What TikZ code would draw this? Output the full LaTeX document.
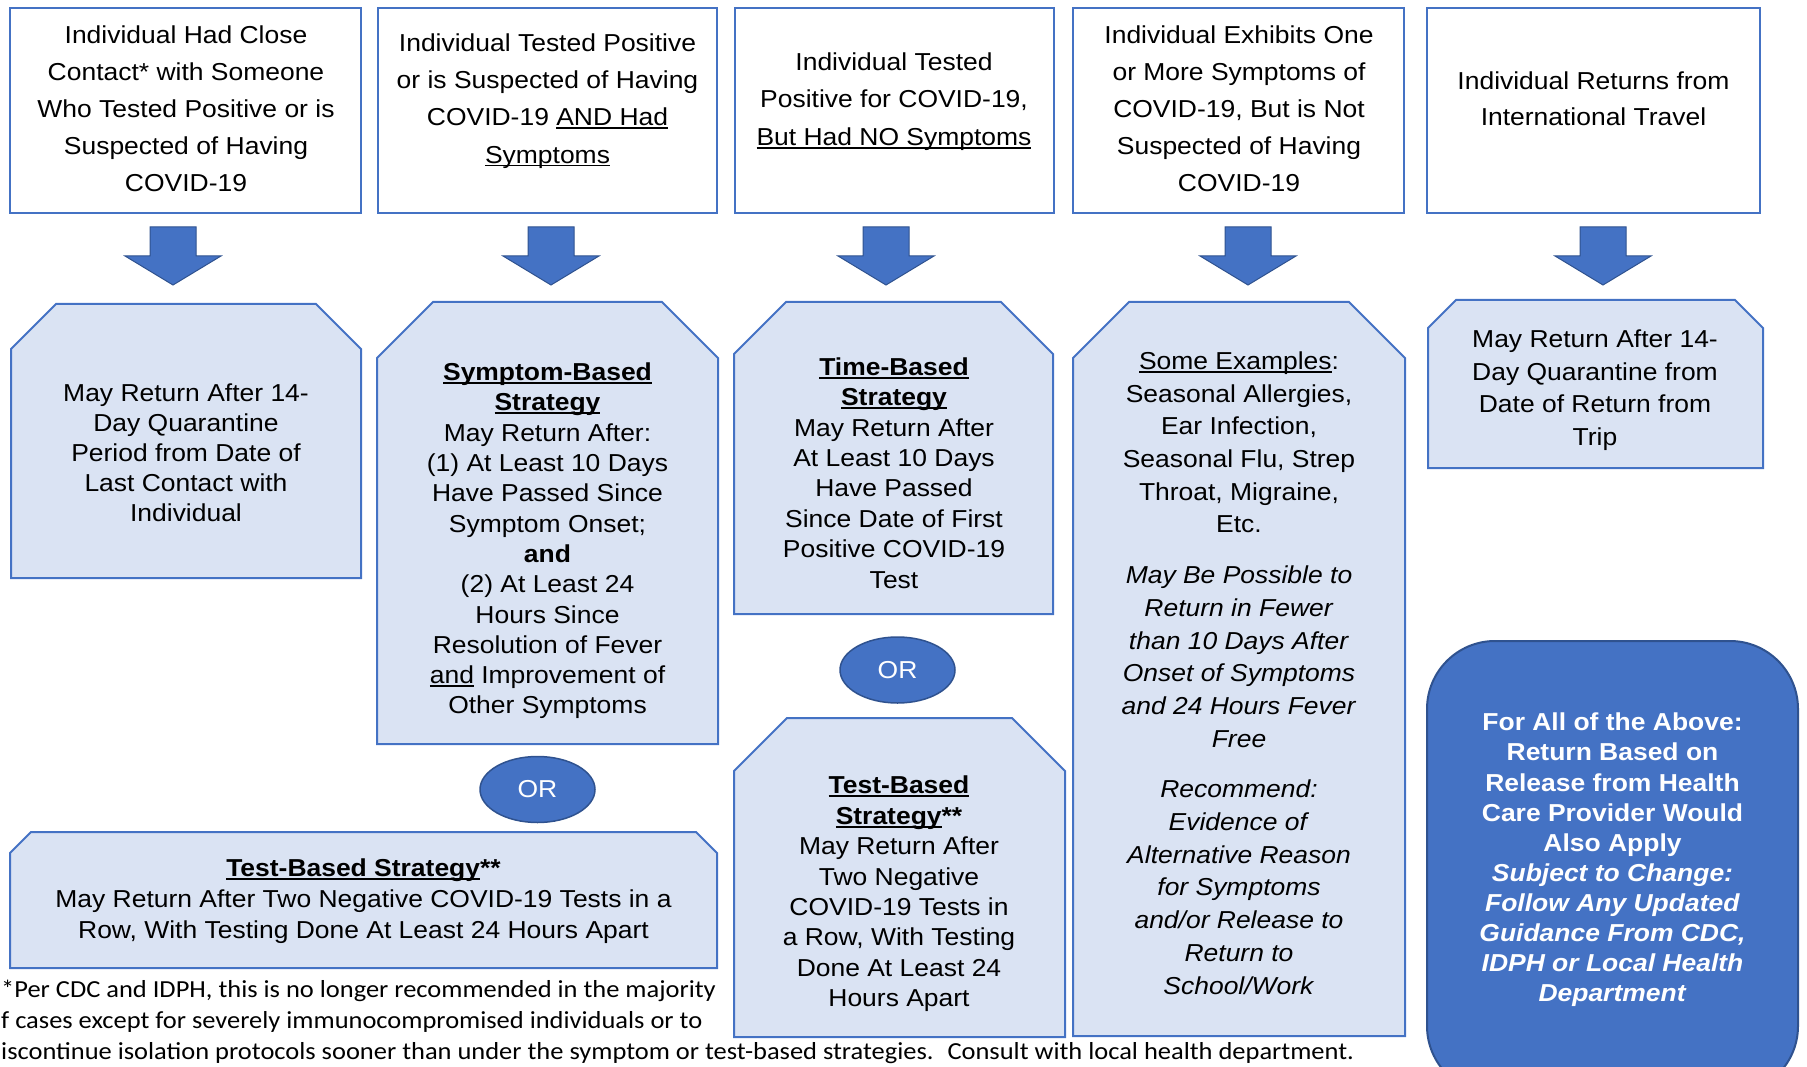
\documentclass[tikz,border=0pt]{standalone}
\usepackage{fontspec}
\setmainfont{Liberation Sans}[FakeStretch=1.08]
\newfontfamily\footfont{Carlito}[FakeStretch=1.08]
\usetikzlibrary{shapes.geometric}
\definecolor{ofblue}{HTML}{4472C4}
\definecolor{ofdark}{HTML}{2F528F}
\definecolor{oflight}{HTML}{DAE3F3}
\newcommand\uln[1]{\setbox0\hbox{#1}\rlap{\rule[-3.2pt]{\wd0}{1.7pt}}\box0\relax}
% snipped-corner box: style, x1, y1, x2, y2, cut
\newcommand\snipbox[6]{\draw[#1] (#2,#5) -- (#2,#3+#6) -- (#2+#6,#3) -- (#4-#6,#3) -- (#4,#3+#6) -- (#4,#5) -- cycle;}
% block arrow down, centred at x
\newcommand\blockarr[1]{\draw[blockarrow] (#1-23,227) -- (#1+23,227) -- (#1+23,256) -- (#1+48,256) -- (#1,285) -- (#1-48,256) -- (#1-23,256) -- cycle;}
\tikzset{
  topbox/.style={draw=ofblue, line width=2.5pt, fill=white},
  lightbox/.style={draw=ofblue, line width=2pt, fill=oflight},
  blockarrow/.style={fill=ofblue, draw=ofdark, line width=1pt},
  darkbox/.style={fill=ofblue, draw=ofdark, line width=2pt, rounded corners=68pt},
  txt/.style={align=center, inner sep=0pt, text=black},
  ortag/.style={ellipse, fill=ofblue, draw=ofdark, line width=1.5pt, minimum width=115pt, minimum height=66pt, inner sep=0pt, text=white, font=\fontsize{24.5}{30}\selectfont},
}
\begin{document}
\begin{tikzpicture}[x=1pt, y=-1pt]
\useasboundingbox (0,0) rectangle (1807,1067);
\clip (0,0) rectangle (1807,1067);
% top boxes
\draw[topbox] (10,8) rectangle (361,213);
\draw[topbox] (378,8) rectangle (717,213);
\draw[topbox] (735,8) rectangle (1054,213);
\draw[topbox] (1073,8) rectangle (1404,213);
\draw[topbox] (1427,8) rectangle (1760,213);
% arrows
\blockarr{173}
\blockarr{551}
\blockarr{886}
\blockarr{1248}
\blockarr{1603}
% light boxes
\snipbox{lightbox}{11}{304}{361}{578}{45}
\snipbox{lightbox}{377}{302}{718}{744}{56}
\snipbox{lightbox}{734}{302}{1053}{614}{52}
\snipbox{lightbox}{734}{718}{1065}{1037}{53}
\snipbox{lightbox}{1073}{302}{1405}{1036}{56}
\snipbox{lightbox}{1428}{300}{1763}{468}{28}
\snipbox{lightbox}{10}{832}{717}{968}{21}
% dark rounded box
\draw[darkbox] (1427,641) rectangle (1798,1094);
% top texts
\node[txt, font=\fontsize{24.5}{37}\selectfont] (t1) at (186,109) {Individual Had Close\\Contact* with Someone\\Who Tested Positive or is\\Suspected of Having\\COVID-19};
\node[txt, font=\fontsize{24.5}{37.3}\selectfont] (t2) at (547.5,101) {Individual Tested Positive\\or is Suspected of Having\\COVID-19 \uln{AND Had}\\\uln{Symptoms}};
\node[txt, font=\fontsize{24.5}{37.5}\selectfont] (t3) at (894,101.5) {Individual Tested\\Positive for COVID-19,\\\uln{But Had NO Symptoms}};
\node[txt, font=\fontsize{24.5}{37}\selectfont] (t4) at (1239,109) {Individual Exhibits One\\or More Symptoms of\\COVID-19, But is Not\\Suspected of Having\\COVID-19};
\node[txt, font=\fontsize{24.5}{36}\selectfont] (t5) at (1593.5,99) {Individual Returns from\\International Travel};
% second row texts
\node[txt, font=\fontsize{24.5}{30}\selectfont] (b1) at (186,453) {May Return After 14-\\Day Quarantine\\Period from Date of\\Last Contact with\\Individual};
\node[txt, font=\fontsize{24.5}{30.3}\selectfont] (b2) at (547.5,541) {\textbf{\uln{Symptom-Based}}\\\textbf{\uln{Strategy}}\\May Return After:\\(1) At Least 10 Days\\Have Passed Since\\Symptom Onset;\\\textbf{and}\\(2) At Least 24\\Hours Since\\Resolution of Fever\\\uln{and} Improvement of\\Other Symptoms};
\node[txt, font=\fontsize{24.5}{30.4}\selectfont] (b3) at (894,473) {\textbf{\uln{Time-Based}}\\\textbf{\uln{Strategy}}\\May Return After\\At Least 10 Days\\Have Passed\\Since Date of First\\Positive COVID-19\\Test};
\node[ortag] (or1) at (897.5,670) {OR};
\node[ortag] (or2) at (537.5,789.5) {OR};
\node[txt, font=\fontsize{24.5}{30.4}\selectfont] (b3b) at (899,894) {\textbf{\uln{Test-Based}}\\\textbf{\uln{Strategy}**}\\May Return After\\Two Negative\\COVID-19 Tests in\\a Row, With Testing\\Done At Least 24\\Hours Apart};
\node[txt, font=\fontsize{24.5}{32.7}\selectfont] (b4) at (1239,673) {\uln{Some Examples}:\\Seasonal Allergies,\\Ear Infection,\\Seasonal Flu, Strep\\Throat, Migraine,\\Etc.\\[18pt]\textit{May Be Possible to}\\\textit{Return in Fewer}\\\textit{than 10 Days After}\\\textit{Onset of Symptoms}\\\textit{and 24 Hours Fever}\\\textit{Free}\\[18pt]\textit{Recommend:}\\\textit{Evidence of}\\\textit{Alternative Reason}\\\textit{for Symptoms}\\\textit{and/or Release to}\\\textit{Return to}\\\textit{School/Work}};
\node[txt, font=\fontsize{24.5}{32.6}\selectfont] (b5) at (1595,390) {May Return After 14-\\Day Quarantine from\\Date of Return from\\Trip};
\node[txt, font=\fontsize{24.5}{31}\selectfont] (wide) at (363.5,901.5) {\textbf{\uln{Test-Based Strategy}**}\\May Return After Two Negative COVID-19 Tests in a\\Row, With Testing Done At Least 24 Hours Apart};
\node[txt, text=white, font=\fontsize{24.5}{30.1}\bfseries\selectfont] (dk) at (1612.5,860) {For All of the Above:\\Return Based on\\Release from Health\\Care Provider Would\\Also Apply\\\textit{Subject to Change:}\\\textit{Follow Any Updated}\\\textit{Guidance From CDC,}\\\textit{IDPH or Local Health}\\\textit{Department}};
% footnote
\node[anchor=west, align=left, inner sep=0pt, font=\footfont\fontsize{24.5}{31}\selectfont] (fn) at (1,1021.5) {*Per CDC and IDPH, this is no longer recommended in the majority\\f cases except for severely immunocompromised individuals or to\\iscontinue isolation protocols sooner than under the symptom or test-based strategies.~ Consult with local health department.};
\end{tikzpicture}
\end{document}
